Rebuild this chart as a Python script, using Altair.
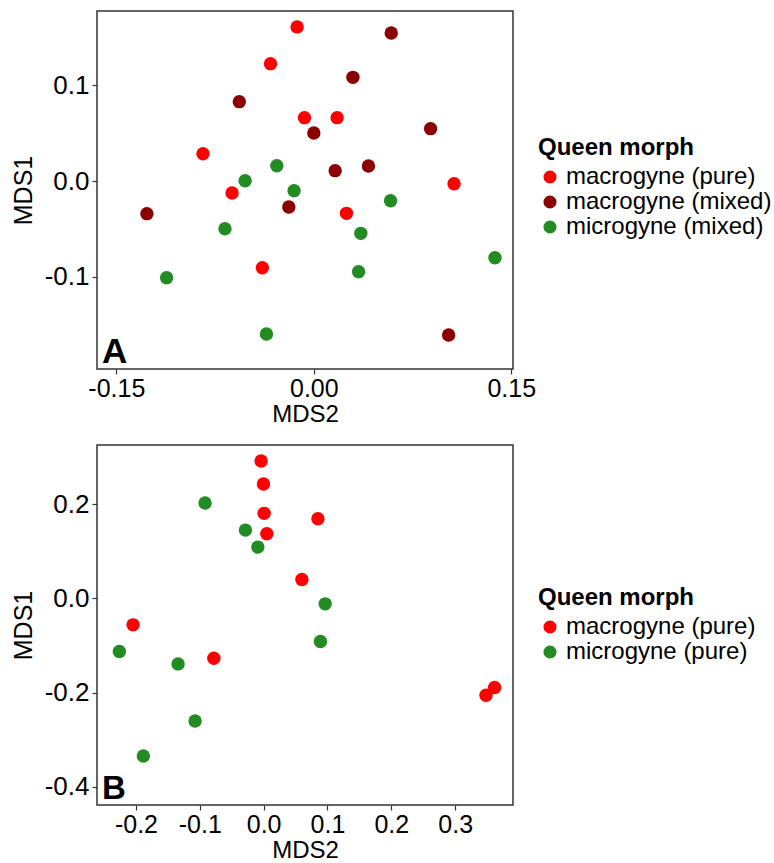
import altair as alt
import pandas as pd

# ---------------- data ----------------
groups_a = ["macrogyne (pure)", "macrogyne (mixed)", "microgyne (mixed)"]
colors_a = ["#FF0000", "#8B0000", "#228B22"]

a_mac_pure_x = [-0.0127, -0.0329, -0.0071, 0.0177, -0.0842, -0.0621, 0.0248, -0.0391, 0.1065]
a_mac_pure_y = [0.161, 0.1226, 0.0662, 0.0662, 0.0285, -0.0125, -0.0338, -0.0906, -0.0028]
a_mac_mixed_x = [0.0588, 0.0297, -0.0566, 0.0, 0.0887, 0.0162, 0.0415, -0.019, -0.1268, 0.1024]
a_mac_mixed_y = [0.1547, 0.1083, 0.0829, 0.0502, 0.0547, 0.0108, 0.0157, -0.0272, -0.0341, -0.1609]
a_mic_mixed_x = [-0.0281, -0.0522, -0.015, 0.0583, -0.0675, 0.0357, 0.034, 0.1376, -0.1118, -0.036]
a_mic_mixed_y = [0.016, 0.0003, -0.0101, -0.0206, -0.0498, -0.0547, -0.0948, -0.0801, -0.101, -0.1599]

groups_b = ["macrogyne (pure)", "microgyne (pure)"]
colors_b = ["#FF0000", "#228B22"]

b_mac_x = [-0.0039, -0.0003, 0.0008, 0.005, 0.085, 0.0599, -0.2045, -0.078, 0.3483, 0.3618]
b_mac_y = [0.2915, 0.2427, 0.1805, 0.1372, 0.169, 0.0403, -0.056, -0.1268, -0.2053, -0.189]
b_mic_x = [-0.0917, -0.0285, -0.0091, 0.0964, 0.089, -0.226, -0.134, -0.1074, -0.1884]
b_mic_y = [0.2023, 0.145, 0.1089, -0.0115, -0.0913, -0.1125, -0.1389, -0.2599, -0.3342]

a_xticks = [-0.15, 0.0, 0.15]
a_yticks = [-0.1, 0.0, 0.1]
b_xticks = [-0.2, -0.1, 0.0, 0.1, 0.2, 0.3]
b_yticks = [-0.4, -0.2, 0.0, 0.2]


def frame(xs_list, ys_list, names):
    rows = []
    for xs, ys, n in zip(xs_list, ys_list, names):
        for x, y in zip(xs, ys):
            rows.append({"MDS2": x, "MDS1": y, "morph": n})
    return pd.DataFrame(rows)


df_a = frame([a_mac_pure_x, a_mac_mixed_x, a_mic_mixed_x],
             [a_mac_pure_y, a_mac_mixed_y, a_mic_mixed_y], groups_a)
df_b = frame([b_mac_x, b_mic_x], [b_mac_y, b_mic_y], groups_b)

FONT = "Liberation Sans"
W = 416


def panel(df, groups, colors, xdom, ydom, xticks, yticks, xfmt, yfmt, label, h, legend_y, letter_size):
    xaxis = alt.Axis(values=xticks, title="MDS2",
                     labelExpr=f"replace(format(datum.value, '{xfmt}'), '\u2212', '-')")
    yaxis = alt.Axis(values=yticks, title="MDS1",
                     labelExpr=f"replace(format(datum.value, '{yfmt}'), '\u2212', '-')")
    pts = alt.Chart(df).mark_circle(size=180, opacity=1).encode(
        x=alt.X("MDS2:Q", scale=alt.Scale(domain=xdom, nice=False, zero=False), axis=xaxis),
        y=alt.Y("MDS1:Q", scale=alt.Scale(domain=ydom, nice=False, zero=False), axis=yaxis),
        color=alt.Color("morph:N", scale=alt.Scale(domain=groups, range=colors),
                        sort=groups,
                        legend=alt.Legend(title="Queen morph", orient="none",
                                          legendX=441, legendY=legend_y)),
    )
    txt = alt.Chart(pd.DataFrame({"t": [label]})).mark_text(
        font=FONT, fontSize=letter_size, fontWeight="bold", align="left",
        baseline="alphabetic", color="black"
    ).encode(x=alt.value(5), y=alt.value(h - 6), text="t:N")
    return alt.layer(pts, txt).properties(width=W, height=h)


pa = panel(df_a, groups_a, colors_a, [-0.1647, 0.1513], [-0.1964, 0.1776],
           a_xticks, a_yticks, ".2f", ".1f", "A", 358, 125, 35)
pb = panel(df_b, groups_b, colors_b, [-0.261, 0.3906], [-0.4382, 0.3255],
           b_xticks, b_yticks, ".1f", ".1f", "B", 360, 141, 33)

chart = alt.vconcat(pa, pb, spacing=17).resolve_scale(color="independent").properties(
    padding={"left": 10, "top": 10, "right": 0, "bottom": 0}
).configure_view(
    stroke="#333333", strokeWidth=1.5
).configure_axis(
    grid=False, domain=False, tickColor="#333333", tickSize=5, tickWidth=1.2,
    labelFont=FONT, labelFontSize=26, labelColor="black", labelPadding=3,
    titleFont=FONT, titleFontSize=25, titleFontWeight="normal", titleColor="black",
    labelOverlap=False, labelBound=False, labelFlush=False,
).configure_axisX(titlePadding=1, labelPadding=2, labelFontSize=25, titleFontSize=24
).configure_axisY(titlePadding=8).configure_legend(
    titleFont=FONT, titleFontSize=24, titleFontWeight="bold", titleColor="black",
    labelFont=FONT, labelFontSize=24, labelColor="black", symbolSize=170,
    symbolType="circle", labelOffset=4, rowPadding=1, padding=0, titlePadding=5,
    symbolStrokeWidth=0, labelLimit=400
)

chart.save("out.html", embed_options={"renderer": "svg", "actions": False})
